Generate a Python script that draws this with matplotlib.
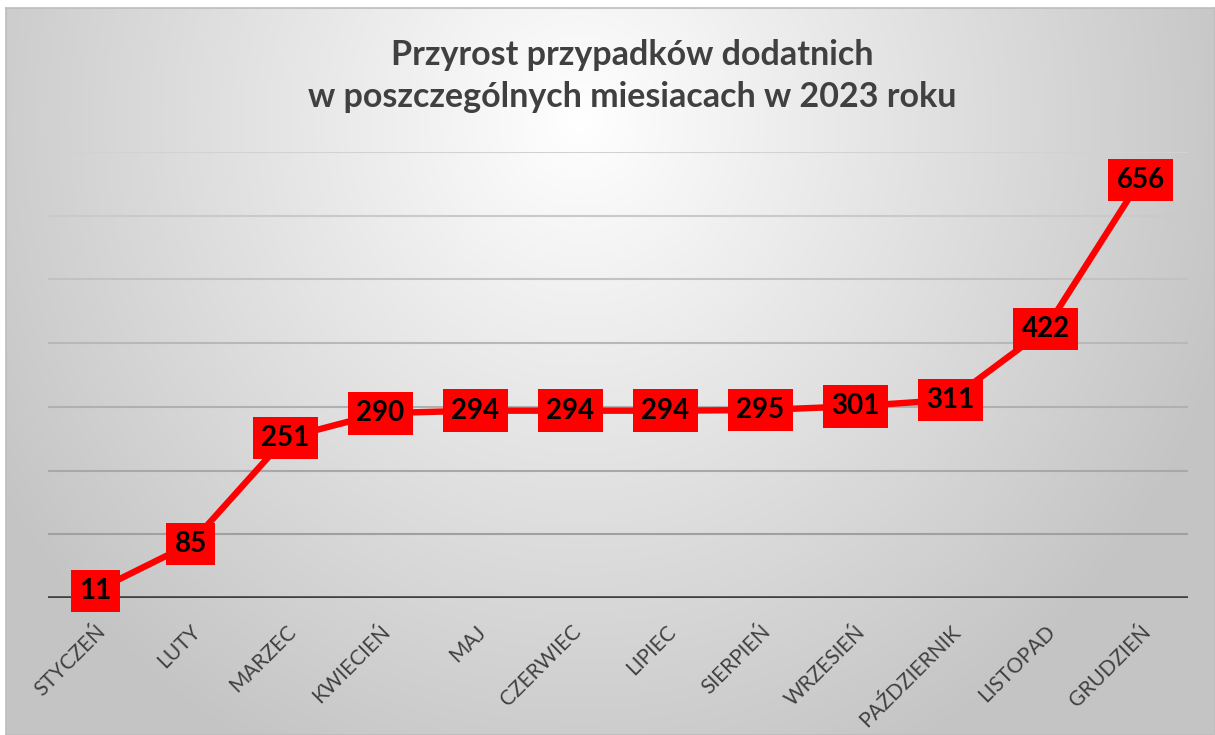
import numpy as np
import matplotlib.pyplot as plt

months = ["STYCZEŃ", "LUTY", "MARZEC", "KWIECIEŃ", "MAJ", "CZERWIEC",
          "LIPIEC", "SIERPIEŃ", "WRZESIEŃ", "PAŹDZIERNIK", "LISTOPAD", "GRUDZIEŃ"]
cases = [11, 85, 251, 290, 294, 294, 294, 295, 301, 311, 422, 656]
y_ticks = [0, 100, 200, 300, 400, 500, 600, 700]
title = "Przyrost przypadków dodatnich\nw poszczególnych miesiacach w 2023 roku"

plt.rcParams['font.family'] = ['Lato', 'DejaVu Sans']

W, H = 1215, 735
fig = plt.figure(figsize=(W / 100, H / 100), dpi=100, facecolor='white')

# radial grey background of the chart area
bg = fig.add_axes([6 / W, 0, 1 - 6 / W, 1 - 8 / H])
yy, xx = np.mgrid[8:H, 6:W]
r = np.sqrt(((xx - 580) / 680.0) ** 2 + ((yy - 120) / 720.0) ** 2)
shade = 1 - 0.23 * np.clip(r, 0, 1)
bg.imshow(np.dstack([shade] * 3), aspect='auto', extent=(0, 1, 0, 1), origin='upper')
bg.set_xticks([])
bg.set_yticks([])
for s in bg.spines.values():
    s.set_color('#bdbdbd')
    s.set_linewidth(1.2)

ax = fig.add_axes([48 / W, 1 - 598 / H, 1140 / W, (598 - 152) / H])
ax.patch.set_alpha(0)
x = np.arange(len(months))
ax.set_xlim(-0.5, len(months) - 0.5)
ax.set_ylim(0, 700)

grid_cols = ['#404040', '#a0a0a0', '#a8a8a8', '#b0b0b0', '#b8b8b8', '#c2c2c2', '#cacaca', '#d2d2d2']
for yv, c in zip(y_ticks, grid_cols):
    if yv == 0:
        ax.axhline(yv, color=c, lw=2.6, zorder=2)
    else:
        ax.axhline(yv, color=c, lw=1.5, zorder=1)

ax.plot(x, cases, color='#ff0000', lw=4.6, zorder=3, solid_capstyle='round')
for xi, v in zip(x, cases):
    ax.text(xi, v, str(v), ha='center', va='center', fontsize=20, fontweight='bold',
            color='black', zorder=4,
            bbox=dict(boxstyle='square,pad=0.3', fc='#ff0000', ec='none'))

ax.set_yticks([])
ax.set_xticks(x)
ax.set_xticklabels(months, rotation=45, ha='right', rotation_mode='anchor',
                   fontsize=15, color='#404040')
ax.tick_params(axis='x', length=0, pad=17)
for s in ax.spines.values():
    s.set_visible(False)

fig.text(632 / W, 1 - 76 / H, title, ha='center', va='center', fontsize=24.5,
         fontweight='bold', color='#404040', linespacing=1.38)

fig.savefig('out.png', dpi=100)
